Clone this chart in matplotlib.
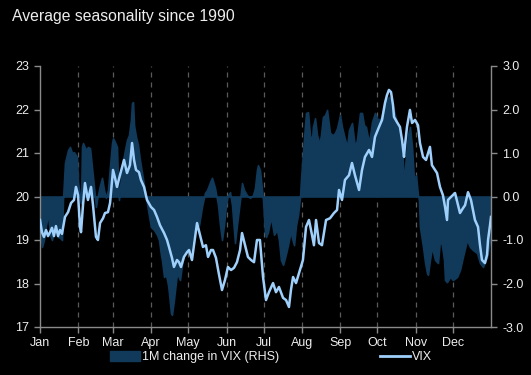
import matplotlib
matplotlib.use("Agg")
import matplotlib.pyplot as plt
from matplotlib.patches import Patch
from matplotlib.lines import Line2D

plt.rcParams['font.family'] = ['Liberation Sans', 'DejaVu Sans']

# ---- data -------------------------------------------------------------
month_labels = ["Jan", "Feb", "Mar", "Apr", "May", "Jun", "Jul", "Aug", "Sep", "Oct", "Nov", "Dec"]
month_starts = [0, 31, 59, 90, 120, 151, 181, 212, 243, 273, 304, 334]

vix_days = [0.0, 1.6, 3.2, 4.9, 6.5, 8.1, 9.7, 11.3, 12.9, 14.6, 16.2, 17.8, 20.2, 22.7, 25.1, 27.5,
            29.1, 30.8, 32.4, 33.2, 34.8, 36.4, 38.8, 41.3, 42.9, 45.3, 46.9, 48.6, 51.0, 52.6, 55.0,
            56.7, 59.1, 60.7, 62.3, 64.7, 68.0, 70.4, 72.8, 74.5, 76.1, 77.7, 80.1, 81.7, 84.2, 86.6,
            89.8, 92.3, 94.7, 97.1, 100.4, 102.8, 104.4, 106.8, 108.4, 110.9, 112.5, 114.1, 116.5,
            119.0, 120.6, 123.0, 124.6, 127.1, 129.5, 131.9, 134.3, 136.0, 138.4, 140.0, 142.4, 144.9,
            147.3, 149.7, 152.1, 154.6, 157.0, 159.4, 161.9, 163.5, 165.9, 168.3, 170.8, 173.2, 175.6,
            178.0, 180.5, 182.9, 185.3, 188.6, 191.0, 193.4, 196.7, 199.1, 201.5, 203.1, 204.8, 207.2,
            209.6, 212.8, 215.3, 217.7, 220.1, 221.7, 223.4, 225.8, 228.2, 231.5, 234.7, 237.9, 240.4,
            242.0, 244.4, 246.8, 250.1, 252.5, 254.9, 258.2, 260.6, 263.0, 266.3, 268.7, 271.1, 274.4,
            276.8, 279.2, 280.8, 282.4, 284.1, 285.7, 286.5, 288.9, 291.3, 293.0, 294.6, 295.4, 297.0,
            299.4, 301.1, 303.5, 305.9, 307.5, 310.0, 312.4, 315.6, 317.2, 319.7, 321.3, 323.7, 326.1,
            327.8, 329.4, 330.2, 332.6, 335.9, 338.3, 339.9, 342.3, 344.0, 346.4, 348.8, 350.4, 352.0,
            354.5, 356.1, 357.7, 360.1, 361.8, 362.6, 364.2, 365.0]
vix_values = [19.46, 19.18, 19.07, 19.23, 19.09, 19.18, 19.28, 19.09, 19.32, 19.09, 19.23, 19.14, 19.53,
              19.64, 19.85, 19.92, 20.22, 20.03, 19.30, 19.18, 19.80, 20.31, 19.92, 20.22, 19.80, 19.07,
              19.00, 19.39, 19.50, 19.62, 19.64, 19.85, 20.61, 20.43, 20.22, 20.49, 20.84, 20.54, 20.72,
              21.23, 20.84, 20.61, 20.56, 20.38, 20.22, 19.92, 19.76, 19.69, 19.53, 19.34, 19.16, 19.00,
              18.84, 18.59, 18.38, 18.54, 18.49, 18.38, 18.61, 18.72, 18.77, 18.54, 18.88, 19.39, 19.12,
              18.84, 18.88, 18.61, 18.77, 18.77, 18.59, 18.20, 17.85, 18.08, 18.38, 18.31, 18.36, 18.49,
              18.77, 19.16, 18.88, 18.61, 18.54, 18.49, 19.00, 19.00, 18.15, 17.62, 17.80, 18.01, 17.80,
              17.92, 17.67, 17.62, 17.46, 17.85, 18.15, 18.01, 18.24, 18.54, 19.30, 19.46, 19.12, 18.88,
              19.46, 18.93, 18.88, 19.46, 19.50, 19.62, 19.69, 20.15, 19.92, 20.38, 20.49, 20.77, 20.49,
              20.15, 20.61, 20.91, 21.07, 20.91, 21.37, 21.60, 21.76, 22.15, 22.33, 22.45, 22.40, 22.10,
              21.83, 21.71, 21.60, 21.30, 20.91, 21.18, 21.60, 21.99, 21.69, 21.76, 21.64, 21.23, 20.91,
              20.84, 21.14, 20.72, 20.61, 20.54, 20.22, 20.03, 19.76, 19.46, 19.92, 19.99, 20.08, 19.80,
              19.62, 19.73, 19.80, 20.10, 19.92, 19.69, 19.46, 19.30, 18.88, 18.54, 18.47, 18.66, 19.00,
              19.34, 19.53]

chg_days = [0.0, 1.6, 3.2, 4.9, 6.5, 8.1, 9.7, 11.3, 12.9, 14.6, 16.2, 17.8, 18.6, 20.2, 22.7, 24.3,
            25.9, 27.5, 29.9, 30.8, 32.4, 33.2, 34.0, 34.8, 37.2, 38.8, 40.5, 42.9, 45.3, 46.1, 48.6,
            50.2, 51.8, 53.4, 55.0, 56.7, 58.3, 59.1, 60.7, 62.3, 63.1, 63.9, 66.4, 68.8, 70.4, 72.0,
            73.6, 74.5, 75.3, 76.1, 77.7, 79.3, 80.9, 82.5, 84.2, 85.8, 87.4, 89.8, 92.3, 94.7, 96.3,
            97.9, 98.7, 100.4, 102.0, 103.6, 104.4, 106.0, 106.8, 108.4, 109.3, 110.9, 113.3, 114.9,
            117.3, 119.0, 120.6, 121.4, 123.0, 125.4, 127.1, 128.7, 131.1, 133.5, 135.2, 137.6, 139.2,
            141.6, 144.1, 145.7, 147.3, 148.9, 150.5, 152.1, 153.8, 155.4, 157.8, 159.4, 161.9, 163.5,
            165.1, 167.5, 170.0, 172.4, 174.0, 175.6, 176.4, 178.0, 179.7, 180.5, 182.1, 182.9, 184.5,
            186.9, 189.4, 191.8, 193.4, 195.0, 196.7, 198.3, 200.7, 203.1, 203.9, 205.6, 207.2, 208.8,
            210.4, 211.2, 212.8, 214.5, 215.3, 216.9, 218.5, 220.1, 220.9, 222.6, 224.2, 225.0, 225.8,
            227.4, 229.0, 230.7, 232.3, 233.9, 234.7, 237.1, 238.7, 240.4, 242.8, 244.4, 246.0, 248.5,
            250.1, 252.5, 254.9, 256.5, 259.0, 260.6, 262.2, 263.8, 266.3, 268.7, 271.1, 273.5, 276.0,
            279.2, 282.4, 284.9, 287.3, 289.7, 293.0, 294.6, 296.2, 297.8, 299.4, 301.1, 302.7, 304.3,
            305.9, 306.7, 307.5, 310.0, 311.6, 313.2, 314.0, 315.6, 317.2, 319.7, 322.1, 323.7, 325.3,
            327.0, 327.8, 329.4, 331.8, 334.2, 337.5, 339.9, 342.3, 345.6, 348.0, 350.4, 353.7, 356.1,
            358.5, 361.8, 364.2, 365.0]
chg_values = [-0.77, -1.16, -1.00, -0.66, -0.38, -0.88, -1.00, -0.77, -0.54, -0.93, -0.95, -1.00, -0.08,
              0.77, 1.07, 1.14, 1.00, 1.02, 0.91, 0.31, -0.01, -0.15, 1.14, 1.23, 1.07, 1.14, 1.11, 0.45,
              -0.24, -0.08, 0.26, 0.43, 0.15, -0.03, 0.15, 0.72, 1.23, 1.34, 1.25, 1.14, 0.38, -0.08, 0.72,
              1.07, 1.30, 1.41, 1.76, 2.15, 2.17, 1.64, 1.37, 1.18, 0.84, 0.56, 0.26, -0.01, -0.31, -0.70,
              -0.77, -0.88, -1.00, -1.34, -1.46, -1.85, -1.80, -2.03, -2.22, -2.68, -2.72, -2.38, -2.15,
              -1.76, -1.92, -1.57, -1.23, -1.28, -1.23, -1.30, -1.00, -0.66, -0.50, -0.66, -0.24, 0.08,
              0.15, 0.33, 0.43, 0.20, -0.20, -0.66, -1.00, -0.66, -0.20, 0.03, 0.10, -0.20, -1.07, -0.66,
              -0.08, 0.31, 0.15, 0.03, -0.03, 0.03, 0.20, 0.61, 0.72, 0.61, 0.15, -0.08, -0.84, -0.93,
              -0.82, -0.47, -0.88, -0.77, -1.00, -1.46, -1.57, -1.41, -1.12, -0.77, -0.95, -1.12, -0.66,
              -0.43, -0.03, 0.38, 1.00, 1.64, 1.92, 1.94, 1.41, 1.30, 1.60, 1.80, 1.41, 1.34, 1.18, 1.41,
              1.83, 1.87, 1.99, 1.64, 1.46, 1.41, 1.46, 1.57, 1.87, 1.60, 1.41, 1.14, 1.53, 1.69, 1.14,
              1.30, 1.92, 1.92, 1.64, 1.60, 1.23, 1.71, 1.92, 1.76, 1.80, 2.15, 2.29, 2.15, 1.87, 1.64,
              1.14, 0.31, 0.95, 1.41, 1.60, 1.14, 0.38, 0.49, 0.03, -0.08, -0.70, -1.16, -1.51, -1.76,
              -1.80, -1.46, -1.16, -1.46, -1.53, -1.00, -1.12, -1.46, -1.92, -1.97, -1.85, -1.92, -1.85,
              -1.69, -1.39, -1.00, -1.16, -1.23, -1.30, -1.53, -1.62, -1.39, -1.00, -0.54]

left_ticks = [17, 18, 19, 20, 21, 22, 23]
right_ticks = [-3.0, -2.0, -1.0, 0.0, 1.0, 2.0, 3.0]

# ---- style ------------------------------------------------------------
BG = "black"
AREA = "#10395a"
LINE = "#9fd0fb"
TXT = "#ededed"
SPINE = "#8a8a8a"
GRID = "#5a5a5a"

fig = plt.figure(figsize=(5.31, 3.75), dpi=100, facecolor=BG)
ax = fig.add_axes([40/531, 1-327/375, 451/531, 261/375])
ax2 = ax.twinx()

# area (RHS) drawn below VIX line
ax.set_zorder(ax2.get_zorder() + 1)
ax.patch.set_visible(False)
ax2.patch.set_facecolor(BG)
ax2.patch.set_visible(True)

for m in month_starts[1:]:
    ax2.axvline(m, color=GRID, lw=0.9, ls=(0, (4, 4)), zorder=0)

ax2.fill_between(chg_days, 0, chg_values, color=AREA, lw=1.2, edgecolor=AREA, zorder=2)
ax.plot(vix_days, vix_values, color=LINE, lw=1.8, zorder=3)

ax.set_xlim(0, 365)
ax.set_ylim(17, 23)
ax2.set_ylim(-3, 3)

ax.set_xticks(month_starts)
ax.set_xticklabels(month_labels)
ax.set_yticks(left_ticks)
ax.set_yticklabels([str(t) for t in left_ticks])
ax2.set_yticks(right_ticks)
ax2.set_yticklabels([f"{t:.1f}" for t in right_ticks])

for a in (ax, ax2):
    for s in a.spines.values():
        s.set_color(SPINE)
        s.set_linewidth(1.0)
    a.spines["top"].set_visible(False)
    a.tick_params(colors=SPINE, labelcolor=TXT, labelsize=9, length=4, width=1.0, direction="out")
ax.spines["right"].set_visible(False)
ax2.spines["left"].set_visible(False)
ax2.spines["bottom"].set_visible(False)
ax.tick_params(axis="y", pad=4)
ax.tick_params(axis="x", pad=3)
ax2.tick_params(axis="y", pad=4)

fig.text(12/531, 1-16/375, "Average seasonality since 1990", color=TXT, fontsize=11.3,
         ha="left", va="center", family=['Liberation Sans Narrow', 'Liberation Sans', 'DejaVu Sans'])

handles = [Patch(facecolor=AREA, edgecolor=AREA), Line2D([0], [0], color=LINE, lw=2)]
leg = fig.legend(handles, ["1M change in VIX (RHS)", "VIX"], loc="center",
                 bbox_to_anchor=(271/531, 1-357/375), ncol=2, frameon=False,
                 fontsize=9, handlelength=2.4, handleheight=0.8, columnspacing=8.0,
                 handletextpad=0.2, borderaxespad=0)
for t in leg.get_texts():
    t.set_color(TXT)

fig.savefig("out.png", dpi=100, facecolor=BG)
